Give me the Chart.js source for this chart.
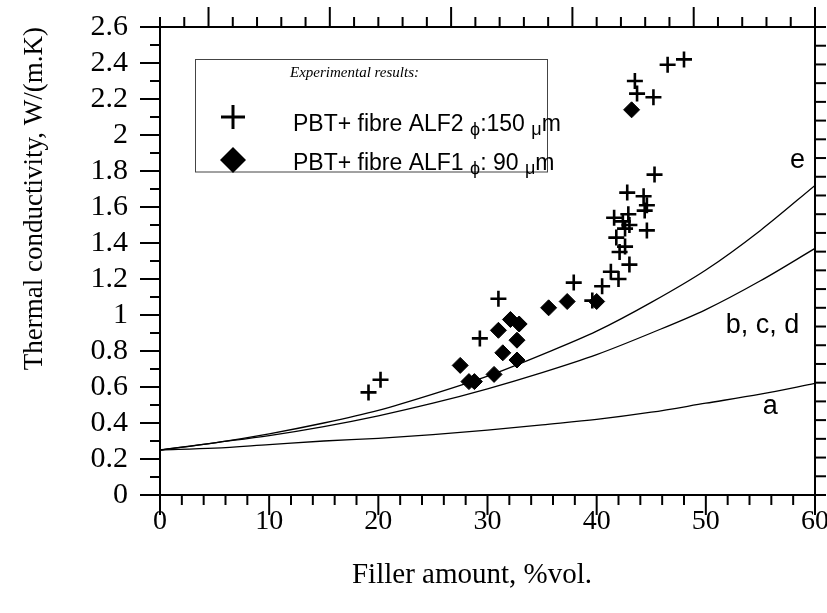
<!DOCTYPE html>
<html><head><meta charset="utf-8">
<script src="https://cdn.jsdelivr.net/npm/chart.js@4/dist/chart.umd.min.js"></script>
<style>html,body{margin:0;padding:0;background:#fff;}#wrap{width:827px;height:613px;}</style>
</head><body><div id="wrap"><canvas id="c" width="827" height="613"></canvas></div>
<script>
// ---- data ----
const curveX   = [0, 5, 10, 15, 20, 25, 30, 35, 40, 45, 50, 55, 60];
const curveA   = [0.25, 0.26, 0.28, 0.30, 0.315, 0.335, 0.36, 0.39, 0.42, 0.46, 0.51, 0.56, 0.62];
const curveBCD = [0.25, 0.29, 0.33, 0.38, 0.44, 0.51, 0.59, 0.68, 0.78, 0.90, 1.03, 1.19, 1.37];
const curveE   = [0.25, 0.29, 0.34, 0.40, 0.47, 0.56, 0.66, 0.78, 0.91, 1.07, 1.25, 1.47, 1.72];

const alf2X = [19.1, 20.2, 29.3, 31.0, 37.9, 39.6, 40.5, 41.3, 41.6, 41.8, 42.1, 42.0, 42.4, 42.6, 42.6, 42.8, 42.9, 43.0, 43.0, 43.5, 43.7, 44.3, 44.4, 44.6, 44.6, 45.2, 45.3, 46.5, 48.0];
const alf2Y = [0.57, 0.64, 0.87, 1.09, 1.18, 1.08, 1.16, 1.24, 1.54, 1.43, 1.35, 1.20, 1.52, 1.38, 1.48, 1.68, 1.56, 1.28, 1.50, 2.30, 2.23, 1.66, 1.58, 1.61, 1.47, 2.21, 1.78, 2.39, 2.42];

const alf1X = [27.5, 28.3, 28.8, 30.6, 31.0, 31.4, 32.1, 32.7, 32.7, 32.9, 35.6, 37.3, 40.0, 43.2];
const alf1Y = [0.72, 0.63, 0.63, 0.67, 0.915, 0.79, 0.975, 0.86, 0.75, 0.95, 1.04, 1.075, 1.075, 2.14];

const xTickLabels = ['0', '10', '20', '30', '40', '50', '60'];
const yTickLabels = ['0', '0.2', '0.4', '0.6', '0.8', '1', '1.2', '1.4', '1.6', '1.8', '2', '2.2', '2.4', '2.6'];
const curveNames = ['e', 'b, c, d', 'a'];
const xTitle = 'Filler amount, %vol.';
const yTitle = 'Thermal conductivity, W/(m.K)';
const legendTitle = 'Experimental results:';
const legendRows = [['PBT+ fibre ALF2 ', 'ϕ', ':150 ', 'μ', 'm'], ['PBT+ fibre ALF1 ', 'ϕ', ': 90 ', 'μ', 'm']];

// ---- chart ----
const pts = (xs, ys) => xs.map((x, i) => ({x: x, y: ys[i]}));
const SERIF = '"Liberation Serif", "Times New Roman", serif';
const SANS = '"Liberation Sans", Arial, sans-serif';

const decor = {
  id: 'decor',
  afterDraw(chart) {
    const {ctx, chartArea: a, scales} = chart;
    ctx.save();
    ctx.strokeStyle = '#000';
    ctx.lineWidth = 2;
    ctx.strokeRect(a.left, a.top, a.right - a.left, a.bottom - a.top);
    const seg = (x1, y1, x2, y2) => { ctx.beginPath(); ctx.moveTo(x1, y1); ctx.lineTo(x2, y2); ctx.stroke(); };
    // left ticks
    for (let k = 0; k <= 26; k++) {
      const p = scales.y.getPixelForValue(k / 10);
      seg(a.left - (k % 2 === 0 ? 20 : 10), p, a.left, p);
    }
    // right ticks
    for (let k = 0; k <= 25; k++) {
      const p = scales.y2.getPixelForValue(k);
      seg(a.right, p, a.right + 11, p);
    }
    // bottom ticks
    for (let k = 0; k <= 30; k++) {
      const p = scales.x.getPixelForValue(k * 2);
      seg(p, a.bottom, p, a.bottom + (k % 5 === 0 ? 20 : 10));
    }
    // top ticks
    for (let k = -2; k <= 25; k++) {
      const p = scales.x2.getPixelForValue(k * 2);
      seg(p, a.top, p, a.top - (k % 5 === 0 ? 20 : 10));
    }
    ctx.fillStyle = '#000';
    // x axis title
    ctx.font = '29px ' + SERIF;
    ctx.textAlign = 'center';
    ctx.textBaseline = 'middle';
    ctx.fillText(xTitle, 472, 575);
    // curve labels
    ctx.font = '27px ' + SANS;
    const lx = [58.4, 55.2, 55.9], ly = [1.86, 0.94, 0.49];
    curveNames.forEach((t, i) => ctx.fillText(t, scales.x.getPixelForValue(lx[i]), scales.y.getPixelForValue(ly[i])));
    // legend box
    ctx.lineWidth = 1;
    ctx.strokeStyle = '#444';
    ctx.strokeRect(195.5, 59.5, 352, 112.5);
    ctx.textAlign = 'left';
    ctx.textBaseline = 'alphabetic';
    ctx.font = 'italic 15px ' + SERIF;
    ctx.fillText(legendTitle, 290, 77);
    // legend symbols
    ctx.strokeStyle = '#000';
    ctx.lineWidth = 3;
    seg(221, 117, 245, 117);
    seg(233, 105, 233, 129);
    ctx.beginPath();
    ctx.moveTo(220, 160); ctx.lineTo(233, 147); ctx.lineTo(246, 160); ctx.lineTo(233, 173); ctx.closePath();
    ctx.fill();
    // legend rows
    const bases = [131, 170];
    legendRows.forEach((parts, r) => {
      let x = 293;
      parts.forEach((t, j) => {
        const sym = (j === 1 || j === 3);
        ctx.font = (sym ? '18px ' : '23px ') + SANS;
        ctx.fillText(t, x, bases[r] + (sym ? 4 : 0));
        x += ctx.measureText(t).width;
      });
    });
    ctx.restore();
  }
};

new Chart(document.getElementById('c'), {
  type: 'scatter',
  data: {
    datasets: [
      {label: 'e', data: pts(curveX, curveE), showLine: true, pointRadius: 0, borderColor: '#000', borderWidth: 1.3, cubicInterpolationMode: 'monotone', fill: false},
      {label: 'b, c, d', data: pts(curveX, curveBCD), showLine: true, pointRadius: 0, borderColor: '#000', borderWidth: 1.3, cubicInterpolationMode: 'monotone', fill: false},
      {label: 'a', data: pts(curveX, curveA), showLine: true, pointRadius: 0, borderColor: '#000', borderWidth: 1.3, cubicInterpolationMode: 'monotone', fill: false},
      {label: 'PBT+ fibre ALF2', data: pts(alf2X, alf2Y), pointStyle: 'cross', pointRadius: 8, borderColor: '#000', backgroundColor: '#000', borderWidth: 2.6},
      {label: 'PBT+ fibre ALF1', data: pts(alf1X, alf1Y), pointStyle: 'rectRot', pointRadius: 8, borderColor: '#000', backgroundColor: '#000', borderWidth: 1}
    ]
  },
  options: {
    responsive: false,
    animation: false,
    devicePixelRatio: 1,
    layout: {padding: 0},
    plugins: {legend: {display: false}, tooltip: {enabled: false}},
    scales: {
      x: {
        type: 'linear', position: 'bottom', min: 0, max: 60,
        grid: {display: false, drawTicks: false}, border: {display: false},
        ticks: {stepSize: 10, autoSkip: false, maxRotation: 0, padding: 10, color: '#000',
          font: {family: SERIF, size: 28},
          callback: (v) => xTickLabels[Math.round(v / 10)]},
        afterFit: (s) => { s.height = 118; s.paddingLeft = 0; s.paddingRight = 0; }
      },
      x2: {
        type: 'linear', position: 'top', min: -4, max: 50,
        grid: {display: false, drawTicks: false}, border: {display: false},
        ticks: {display: false},
        afterFit: (s) => { s.height = 27; s.paddingLeft = 0; s.paddingRight = 0; }
      },
      y: {
        type: 'linear', position: 'left', min: 0, max: 2.6,
        grid: {display: false, drawTicks: false}, border: {display: false},
        ticks: {stepSize: 0.2, autoSkip: false, padding: 32, color: '#000',
          font: {family: SERIF, size: 30},
          callback: (v) => yTickLabels[Math.round(v / 0.2)]},
        title: {display: true, text: yTitle, align: 'end', color: '#000', font: {family: SERIF, size: 27}, padding: {top: 19, bottom: 0}},
        afterFit: (s) => { s.width = 160; s.paddingTop = 0; s.paddingBottom = 0; }
      },
      y2: {
        type: 'linear', position: 'right', min: 0, max: 25,
        grid: {display: false, drawTicks: false}, border: {display: false},
        ticks: {display: false},
        afterFit: (s) => { s.width = 12; s.paddingTop = 0; s.paddingBottom = 0; }
      }
    }
  },
  plugins: [decor]
});
</script>
</body></html>
